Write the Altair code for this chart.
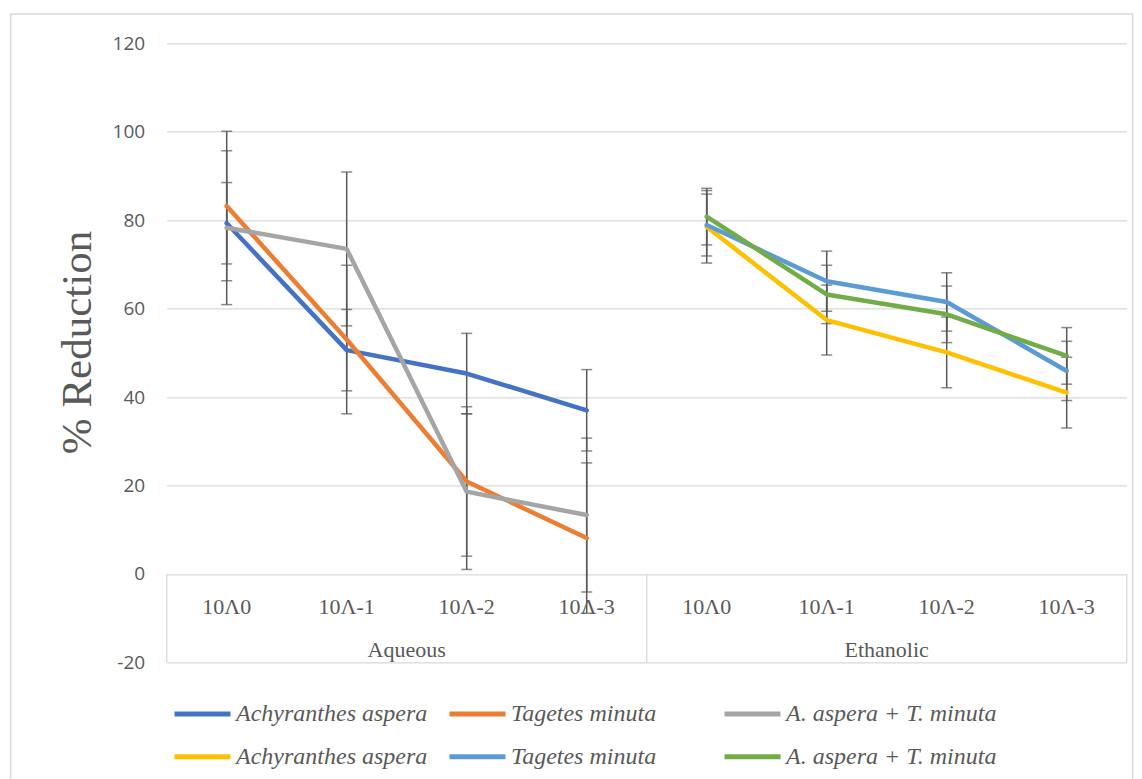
import altair as alt
import pandas as pd

# ---------------- data ----------------
doses = ["10Λ0", "10Λ-1", "10Λ-2", "10Λ-3"]
groups = ["Aqueous", "Ethanolic"]
series_names = ["Achyranthes aspera", "Tagetes minuta", "A. aspera + T. minuta"]
keys = ["s1", "s2", "s3", "s4", "s5", "s6"]
colors = ["#4472C4", "#ED7D31", "#A5A5A5", "#FFC000", "#5B9BD5", "#70AD47"]

aq_achy = [79.3, 50.6, 45.3, 37.0]
aq_tage = [83.2, 53.0, 20.9, 8.1]
aq_mix = [78.3, 73.5, 18.6, 13.3]
et_achy = [78.5, 57.4, 50.1, 41.0]
et_tage = [78.9, 66.2, 61.5, 45.9]
et_mix = [80.8, 63.2, 58.7, 49.3]

aq_achy_err = [9.2, 9.2, 9.1, 9.2]
aq_tage_err = [16.9, 16.8, 16.9, 17.0]
aq_mix_err = [17.4, 17.4, 17.6, 17.4]
et_achy_err = [8.2, 7.9, 8.0, 8.0]
et_tage_err = [7.0, 6.8, 6.6, 6.7]
et_mix_err = [6.4, 6.6, 6.4, 6.4]

series_vals = [aq_achy, aq_tage, aq_mix, et_achy, et_tage, et_mix]
series_errs = [aq_achy_err, aq_tage_err, aq_mix_err, et_achy_err, et_tage_err, et_mix_err]

rows = []
for i, (vals, errs) in enumerate(zip(series_vals, series_errs)):
    g = i // 3
    for d in range(4):
        rows.append({"key": keys[i], "x": g * 4 + d + 0.5, "v": vals[d],
                     "lo": vals[d] - errs[d], "hi": vals[d] + errs[d]})
df = pd.DataFrame(rows)

tick_rows = []
for g in range(2):
    for d in range(4):
        tick_rows.append({"x": g * 4 + d + 0.5, "label": doses[d]})
ticks_df = pd.DataFrame(tick_rows)
group_df = pd.DataFrame({"x": [2.0, 6.0], "label": groups})
sep_df = pd.DataFrame({"x": [0, 4, 8]})
frame_df = pd.DataFrame({"a": [0]})
yticks = list(range(-20, 121, 20))
grid_df = pd.DataFrame({"v": yticks})

GRAY = "#595959"
GRID = "#D9D9D9"
xscale = alt.Scale(domain=[0, 8], nice=False, zero=False)
yscale = alt.Scale(domain=[-20, 120], nice=False, zero=False)

label_expr = ("(datum.value == 's1' || datum.value == 's4') ? 'Achyranthes aspera' : "
              "(datum.value == 's2' || datum.value == 's5') ? 'Tagetes minuta' : 'A. aspera + T. minuta'")

frame = alt.Chart(frame_df).mark_rect(fillOpacity=0, stroke=GRID, strokeWidth=1.5).encode(
    x=alt.value(-156), x2=alt.value(966), y=alt.value(-29.3), y2=alt.value(780)
)

grid = alt.Chart(grid_df).mark_rule(opacity=0).encode(
    y=alt.Y("v:Q", scale=yscale,
            axis=alt.Axis(values=yticks, grid=True, domain=False, ticks=False,
                          gridColor=GRID, gridWidth=1.3, labelExpr="'' + datum.value",
                          labelPadding=22, labelFont="Open Sans", labelFontSize=19, labelColor=GRAY,
                          title="% Reduction", titleFont="Liberation Serif", titleFontSize=43,
                          titleFontWeight="normal", titleColor=GRAY, titleX=-76.7, titleY=298.7,
                          titleAngle=270, titleAlign="center", titleBaseline="alphabetic")),
)

seps = alt.Chart(sep_df).mark_rule(color=GRID, strokeWidth=1.3).encode(
    x=alt.X("x:Q", scale=xscale, axis=None),
    y=alt.datum(0, scale=yscale, axis=None),
    y2=alt.datum(-20),
)

tick_text = alt.Chart(ticks_df).mark_text(font="Liberation Serif", fontSize=22, color=GRAY,
                                          baseline="alphabetic", align="center").encode(
    x=alt.X("x:Q", scale=xscale, axis=None),
    y=alt.datum(-9.1, scale=yscale, axis=None),
    text="label:N",
)

group_text = alt.Chart(group_df).mark_text(font="Liberation Serif", fontSize=22, color=GRAY,
                                           baseline="alphabetic", align="center").encode(
    x=alt.X("x:Q", scale=xscale, axis=None),
    y=alt.datum(-18.8, scale=yscale, axis=None),
    text="label:N",
)

err = alt.Chart(df).mark_rule(color=GRAY, strokeWidth=1.5).encode(
    x=alt.X("x:Q", scale=xscale, axis=None),
    y=alt.Y("lo:Q", scale=yscale, axis=None),
    y2="hi:Q",
)
cap_lo = alt.Chart(df).mark_tick(color=GRAY, orient="horizontal", size=11, thickness=1.5).encode(
    x=alt.X("x:Q", scale=xscale, axis=None),
    y=alt.Y("lo:Q", scale=yscale, axis=None),
)
cap_hi = alt.Chart(df).mark_tick(color=GRAY, orient="horizontal", size=11, thickness=1.5).encode(
    x=alt.X("x:Q", scale=xscale, axis=None),
    y=alt.Y("hi:Q", scale=yscale, axis=None),
)

lines = alt.Chart(df).mark_line(strokeWidth=4.5, strokeCap="round", strokeJoin="round").encode(
    x=alt.X("x:Q", scale=xscale, axis=None),
    y=alt.Y("v:Q", scale=yscale, axis=None),
    color=alt.Color("key:N", scale=alt.Scale(domain=keys, range=colors),
                    legend=alt.Legend(orient="none", legendX=5.3, legendY=640, columns=3,
                                      direction="horizontal", title=None,
                                      symbolType="stroke", symbolSize=3136, symbolStrokeWidth=5,
                                      labelExpr=label_expr, labelFont="Liberation Serif",
                                      labelFontStyle="italic", labelFontSize=24, labelColor=GRAY,
                                      labelLimit=0, labelOffset=3, gridAlign="all",
                                      columnPadding=-8, rowPadding=0, padding=0)),
    order="x:Q",
)

chart = alt.layer(frame, grid, seps, tick_text, group_text, err, cap_lo, cap_hi, lines).resolve_axis(
    y="independent", x="independent"
).properties(
    width=960, height=619,
    autosize=alt.AutoSizeParams(type="none"),
    padding={"left": 166.7, "top": 43.3, "right": 15.3, "bottom": 116.7},
    background="white",
).configure_view(stroke=None)

chart.save("out.html", embed_options={"renderer": "svg", "actions": False})
